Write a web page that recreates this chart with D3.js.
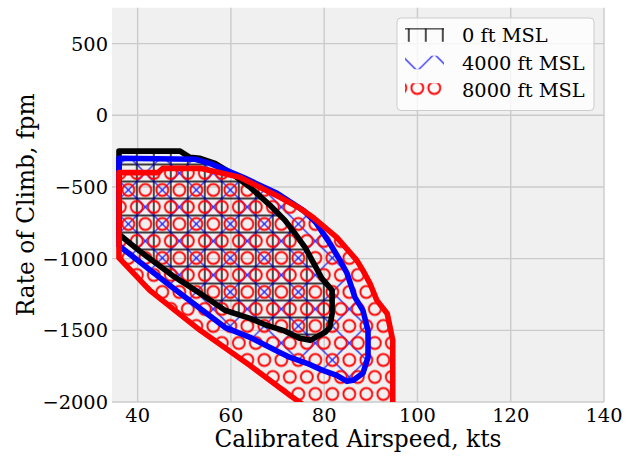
<!DOCTYPE html>
<html>
<head>
<meta charset="utf-8">
<script src="https://cdn.jsdelivr.net/npm/d3@7"></script>
<style>
  body { margin: 0; background: #fff; }
  text { font-family: "DejaVu Serif", serif; fill: #000; }
</style>
</head>
<body>
<div id="chart"></div>
<script>
// Climb envelopes, airspeed (kts) and rate of climb (fpm), traced clockwise
const kts0 = [36, 49.1, 51.2, 53.4, 56.6, 59.8, 64.1, 68.4, 71.6, 73.7, 75.9, 78.0, 79.5, 80.8, 81.7, 81.7, 81.2, 80.2, 77.0, 74.8, 71.2, 67.7, 64.1, 58.7, 53.4, 47.4, 40.5, 36];
const roc0 = [-250, -250, -293, -300, -335, -398, -502, -628, -733, -823, -921, -1047, -1137, -1186, -1221, -1382, -1479, -1514, -1570, -1556, -1500, -1465, -1417, -1360, -1242, -1116, -949, -830];

const kts4000 = [36, 52.3, 55.5, 62.6, 69.9, 75.5, 78.2, 81.2, 83.4, 84.9, 86.6, 88.3, 89.4, 89.4, 88.3, 86.2, 84.9, 82.7, 79.7, 76.3, 72.7, 70.5, 64.1, 58.7, 47.4, 36];
const roc4000 = [-300, -307, -335, -433, -544, -663, -747, -893, -1012, -1102, -1270, -1361, -1500, -1689, -1800, -1849, -1856, -1814, -1779, -1730, -1689, -1654, -1549, -1479, -1200, -910];

const kts8000 = [36, 44.4, 45.4, 53.4, 57.7, 62.0, 66.2, 70.5, 74.8, 77.6, 82.7, 87.0, 88.3, 89.8, 91.3, 93.5, 94.7, 94.7, 79.1, 77.0, 74.8, 72.7, 64.1, 53.4, 42.6, 36];
const roc8000 = [-400, -400, -370, -370, -400, -433, -502, -572, -649, -712, -851, -1012, -1082, -1172, -1291, -1382, -1570, -2130, -2130, -2058, -2003, -1954, -1745, -1500, -1221, -995];

const seriesNames = ["0 ft MSL", "4000 ft MSL", "8000 ft MSL"];
const seriesColors = ["#000000", "#0000ff", "#ff0000"];
const xTicks = [40, 60, 80, 100, 120, 140];
const yTicks = [-2000, -1500, -1000, -500, 0, 500];

const W = 637, H = 457;
const box = {left: 112, right: 604, top: 7.8, bottom: 402};

const svg = d3.select("#chart").append("svg")
    .attr("width", W)
    .attr("height", H);

const x = d3.scaleLinear().domain([34.5, 140]).range([box.left, box.right]);
const y = d3.scaleLinear().domain([-2000, 750]).range([box.bottom, box.top]);

const defs = svg.append("defs");

defs.append("clipPath").attr("id", "plotclip")
    .append("rect")
    .attr("x", box.left).attr("y", box.top)
    .attr("width", box.right - box.left).attr("height", box.bottom - box.top);

// Hatch patterns, anchored in page space like matplotlib does
const P = 17, T = 2 * P;
const ox = 128.3 - P / 2, oy = 190 - P / 2;

function makePattern(id) {
    return defs.append("pattern")
        .attr("id", id)
        .attr("patternUnits", "userSpaceOnUse")
        .attr("x", ox).attr("y", oy)
        .attr("width", T).attr("height", T);
}

// '+' hatch
const plus = makePattern("hatch0");
[0, P, T].forEach(v => {
    plus.append("line").attr("x1", v).attr("x2", v).attr("y1", 0).attr("y2", T)
        .attr("stroke", seriesColors[0]).attr("stroke-width", 1.4);
    plus.append("line").attr("y1", v).attr("y2", v).attr("x1", 0).attr("x2", T)
        .attr("stroke", seriesColors[0]).attr("stroke-width", 1.4);
});

// 'x' hatch
const cross = makePattern("hatch1");
[[-5, -5, T + 5, T + 5], [-5, T - 5, 5, T + 5], [T - 5, -5, T + 5, 5],
 [-5, P + 5, P + 5, -5], [P - 5, T + 5, T + 5, P - 5]].forEach(s => {
    cross.append("line")
        .attr("x1", s[0]).attr("y1", s[1]).attr("x2", s[2]).attr("y2", s[3])
        .attr("stroke", seriesColors[1]).attr("stroke-width", 1.2);
});

// 'O' hatch
const circ = makePattern("hatch2");
[[P / 2, P / 2], [P * 1.5, P / 2], [0, P * 1.5], [P, P * 1.5], [T, P * 1.5],
 [P / 2, P * 2.5], [P * 1.5, P * 2.5], [P / 2, -P / 2], [P * 1.5, -P / 2]].forEach(c => {
    circ.append("circle")
        .attr("cx", c[0]).attr("cy", c[1]).attr("r", 0.35 * P)
        .attr("fill", "none")
        .attr("stroke", seriesColors[2]).attr("stroke-width", 1.9);
});

// axes background
svg.append("rect")
    .attr("x", box.left).attr("y", box.top)
    .attr("width", box.right - box.left).attr("height", box.bottom - box.top)
    .attr("fill", "#f0f0f0");

// grid
svg.append("g").selectAll("line").data(xTicks).join("line")
    .attr("x1", d => x(d)).attr("x2", d => x(d))
    .attr("y1", box.top).attr("y2", box.bottom)
    .attr("stroke", "#cbcbcb").attr("stroke-width", 1.4);
svg.append("g").selectAll("line").data(yTicks).join("line")
    .attr("y1", d => y(d)).attr("y2", d => y(d))
    .attr("x1", box.left).attr("x2", box.right)
    .attr("stroke", "#cbcbcb").attr("stroke-width", 1.4);

// envelopes
const envelopes = [
    kts0.map((k, i) => [k, roc0[i]]),
    kts4000.map((k, i) => [k, roc4000[i]]),
    kts8000.map((k, i) => [k, roc8000[i]])
];

const line = d3.line()
    .x(d => x(d[0]))
    .y(d => y(d[1]))
    .curve(d3.curveLinearClosed);

const plot = svg.append("g").attr("clip-path", "url(#plotclip)");

// hatches first, then the outlines on top
envelopes.forEach((pts, i) => {
    plot.append("path")
        .attr("d", line(pts))
        .attr("fill", `url(#hatch${i})`)
        .attr("stroke", "none");
});
envelopes.forEach((pts, i) => {
    plot.append("path")
        .attr("d", line(pts))
        .attr("fill", "none")
        .attr("stroke", seriesColors[i])
        .attr("stroke-width", 5.6)
        .attr("stroke-linejoin", "round");
});

// tick labels
const fmt = d3.format("d");
svg.append("g").selectAll("text").data(xTicks).join("text")
    .attr("x", d => x(d)).attr("y", 422)
    .attr("text-anchor", "middle")
    .style("font-size", "19.4px")
    .text(d => fmt(d));
svg.append("g").selectAll("text").data(yTicks).join("text")
    .attr("x", 108).attr("y", d => y(d) + 7)
    .attr("text-anchor", "end")
    .style("font-size", "19.4px")
    .text(d => fmt(d));

// axis labels
svg.append("text")
    .attr("x", (box.left + box.right) / 2).attr("y", 447)
    .attr("text-anchor", "middle")
    .style("font-size", "23.3px")
    .text("Calibrated Airspeed, kts");
svg.append("text")
    .attr("transform", `translate(34,${(box.top + box.bottom) / 2}) rotate(-90)`)
    .attr("text-anchor", "middle")
    .style("font-size", "23.3px")
    .text("Rate of Climb, fpm");

// legend
const legend = svg.append("g");
legend.append("rect")
    .attr("x", 397).attr("y", 18)
    .attr("width", 197).attr("height", 92.5)
    .attr("rx", 4)
    .attr("fill", "#ffffff").attr("fill-opacity", 0.8)
    .attr("stroke", "#cccccc").attr("stroke-width", 1);

seriesNames.forEach((name, i) => {
    const cy = 35 + i * 27.5;
    legend.append("rect")
        .attr("x", 405).attr("y", cy - 6.8)
        .attr("width", 39).attr("height", 13.6)
        .attr("fill", `url(#hatch${i})`);
    legend.append("text")
        .attr("x", 462).attr("y", cy + 7)
        .style("font-size", "19.4px")
        .text(name);
});
</script>
</body>
</html>
